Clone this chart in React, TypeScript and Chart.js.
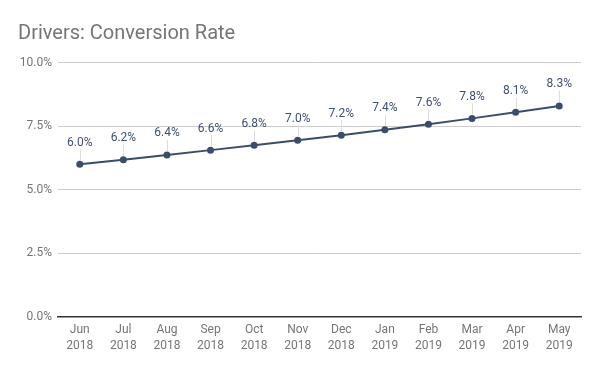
import React, { useEffect, useRef } from "react";
import { Chart, registerables } from "chart.js";

Chart.register(...registerables);

const months = ["Jun", "Jul", "Aug", "Sep", "Oct", "Nov", "Dec", "Jan", "Feb", "Mar", "Apr", "May"];
const years = ["2018", "2018", "2018", "2018", "2018", "2018", "2018", "2019", "2019", "2019", "2019", "2019"];
const conversionRate = [5.99, 6.17, 6.36, 6.55, 6.74, 6.94, 7.14, 7.35, 7.57, 7.8, 8.04, 8.29];
const pointLabels = ["6.0%", "6.2%", "6.4%", "6.6%", "6.8%", "7.0%", "7.2%", "7.4%", "7.6%", "7.8%", "8.1%", "8.3%"];
const yTicks = [0, 2.5, 5, 7.5, 10];
const title = "Drivers: Conversion Rate";

const FONT = "Roboto, 'Noto Sans', sans-serif";
const LINE_COLOR = "#3a4d6d";

export default function App() {
  const ref = useRef<HTMLCanvasElement | null>(null);
  useEffect(() => {
    document.body.style.margin = "0";
    const canvas = ref.current!;
    const labelPlugin = {
      id: "labelsAndTitle",
      afterDatasetsDraw(chart: any) {
        const ctx = chart.ctx;
        ctx.save();
        ctx.font = `20px ${FONT}`;
        ctx.fillStyle = "#757575";
        ctx.textAlign = "left";
        ctx.textBaseline = "alphabetic";
        ctx.fillText(title, 18, 39);
        const meta = chart.getDatasetMeta(0);
        meta.data.forEach((pt: any, i: number) => {
          const x = pt.x;
          const y = pt.y;
          ctx.strokeStyle = "#dcdcdc";
          ctx.lineWidth = 1;
          ctx.beginPath();
          ctx.moveTo(Math.round(x) + 0.5, y - 15);
          ctx.lineTo(Math.round(x) + 0.5, y - 4);
          ctx.stroke();
          ctx.font = `12px ${FONT}`;
          ctx.fillStyle = "#3d5073";
          ctx.textAlign = "center";
          ctx.textBaseline = "middle";
          ctx.fillText(pointLabels[i], x, y - 21.5);
        });
        ctx.restore();
      },
    };
    const chart = new Chart(canvas, {
      type: "line",
      data: {
        labels: months.map((m, i) => [m, years[i]]),
        datasets: [
          {
            data: conversionRate,
            borderColor: LINE_COLOR,
            backgroundColor: LINE_COLOR,
            borderWidth: 2,
            pointRadius: 3.5,
            pointBackgroundColor: LINE_COLOR,
            pointBorderWidth: 0,
            tension: 0,
          },
        ],
      },
      options: {
        animation: false,
        responsive: false,
        maintainAspectRatio: false,
        layout: { padding: { top: 62.5, right: 19, left: 0, bottom: 0 } },
        plugins: { legend: { display: false }, tooltip: { enabled: false }, title: { display: false } },
        scales: {
          x: {
            offset: true,
            grid: { display: false, drawTicks: false },
            border: { display: true, color: "#333333", width: 1.5 },
            ticks: {
              color: "#757575",
              font: { family: FONT, size: 12, lineHeight: 1.35 },
              padding: 5,
              maxRotation: 0,
              autoSkip: false,
            },
            afterFit(scale: any) {
              scale.height = 54.5;
            },
          },
          y: {
            min: 0,
            max: 10,
            afterBuildTicks(scale: any) {
              scale.ticks = yTicks.map((v) => ({ value: v }));
            },
            grid: { color: "#cccccc", drawTicks: false },
            border: { display: false },
            ticks: {
              color: "#757575",
              font: { family: FONT, size: 12 },
              padding: 6,
              callback: (v: any) => Number(v).toFixed(1) + "%",
            },
            afterFit(scale: any) {
              scale.width = 58;
            },
          },
        },
      },
      plugins: [labelPlugin],
    });
    return () => chart.destroy();
  }, []);
  return (
    <div style={{ position: "absolute", left: 0, top: 0, width: 600, height: 371, background: "#fff" }}>
      <canvas ref={ref} width={600} height={371} style={{ width: 600, height: 371 }} />
    </div>
  );
}
